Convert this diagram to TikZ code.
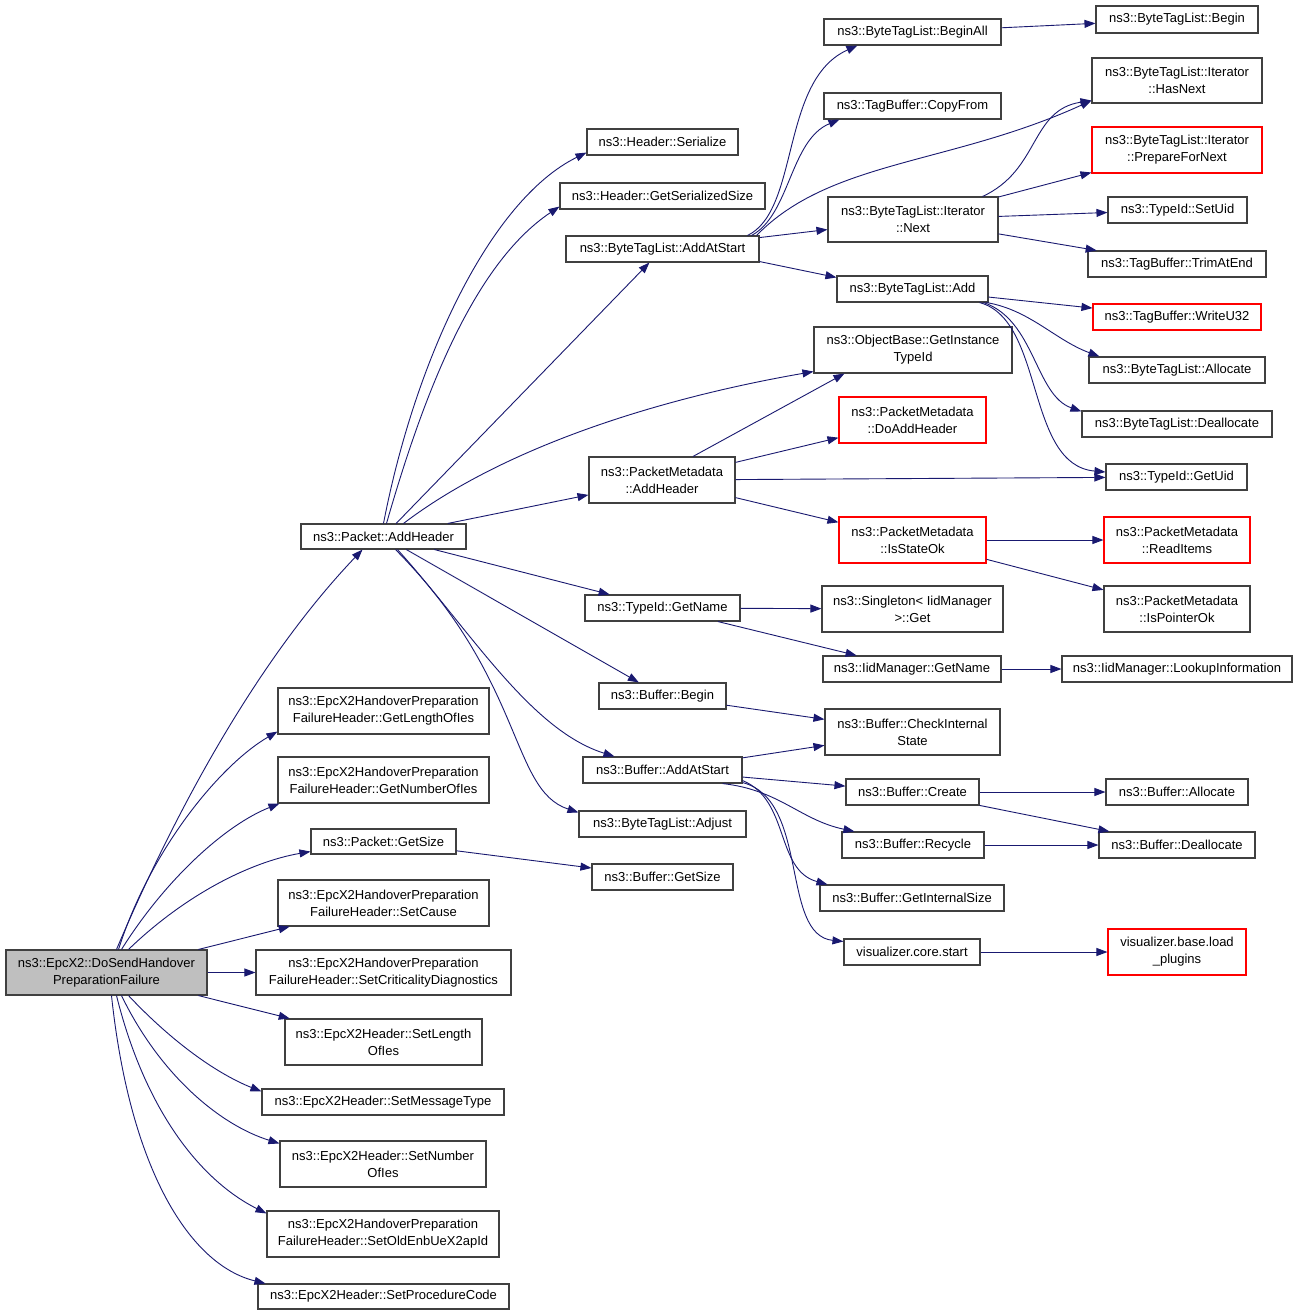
\documentclass[tikz,border=0pt]{standalone}
\usepackage{fontspec}
\setmainfont{Liberation Sans}
\usetikzlibrary{arrows.meta,calc}
\definecolor{edgec}{RGB}{25,25,112}
\definecolor{boxc}{RGB}{64,64,64}
\definecolor{rootc}{RGB}{191,191,191}
\begin{document}
\begin{tikzpicture}[x=1pt,y=-1pt,
  box/.style={draw=boxc,line width=1.1pt,fill=white,inner sep=0pt,align=center,
    font=\fontsize{13}{17}\selectfont},
  redbox/.style={box,draw=red},
  rootbox/.style={box,fill=rootc},
  edge/.style={draw=edgec,line width=0.9pt,-{Triangle[length=11pt,width=8pt]}}]
\fill[white] (0,0) rectangle (1299,1316);
\useasboundingbox (0,0) rectangle (1299,1316);
% level 0
\node[rootbox,minimum width=201,minimum height=45] (root) at (106.5,972.5) {ns3::EpcX2::DoSendHandover\\PreparationFailure};
% level 1
\node[box,minimum width=165,minimum height=25] (pah) at (383.5,536.5) {ns3::Packet::AddHeader};
\node[box,minimum width=211,minimum height=46] (glen) at (383.5,711) {ns3::EpcX2HandoverPreparation\\FailureHeader::GetLengthOfIes};
\node[box,minimum width=211,minimum height=46] (gnum) at (383.5,780) {ns3::EpcX2HandoverPreparation\\FailureHeader::GetNumberOfIes};
\node[box,minimum width=145,minimum height=25] (pgs) at (383.5,841.5) {ns3::Packet::GetSize};
\node[box,minimum width=211,minimum height=46] (scause) at (383.5,903) {ns3::EpcX2HandoverPreparation\\FailureHeader::SetCause};
\node[box,minimum width=255,minimum height=45] (scrit) at (383.5,972.5) {ns3::EpcX2HandoverPreparation\\FailureHeader::SetCriticalityDiagnostics};
\node[box,minimum width=197,minimum height=46] (slen) at (383.5,1042) {ns3::EpcX2Header::SetLength\\OfIes};
\node[box,minimum width=242,minimum height=26] (smt) at (383,1102) {ns3::EpcX2Header::SetMessageType};
\node[box,minimum width=206,minimum height=46] (snum) at (383,1164) {ns3::EpcX2Header::SetNumber\\OfIes};
\node[box,minimum width=232,minimum height=46] (sold) at (383,1234) {ns3::EpcX2HandoverPreparation\\FailureHeader::SetOldEnbUeX2apId};
\node[box,minimum width=251,minimum height=25] (spc) at (383.5,1296.5) {ns3::EpcX2Header::SetProcedureCode};
% level 2
\node[box,minimum width=151,minimum height=26] (hser) at (662.5,142) {ns3::Header::Serialize};
\node[box,minimum width=205,minimum height=26] (hgss) at (662.5,196) {ns3::Header::GetSerializedSize};
\node[box,minimum width=193,minimum height=26] (bats) at (662.5,249) {ns3::ByteTagList::AddAtStart};
\node[box,minimum width=146,minimum height=46] (pma) at (662,480) {ns3::PacketMetadata\\::AddHeader};
\node[box,minimum width=155,minimum height=26] (tgn) at (662.5,608) {ns3::TypeId::GetName};
\node[box,minimum width=127,minimum height=26] (bb) at (662.5,696) {ns3::Buffer::Begin};
\node[box,minimum width=159,minimum height=26] (bas) at (662.5,770) {ns3::Buffer::AddAtStart};
\node[box,minimum width=167,minimum height=26] (adj) at (662.5,824) {ns3::ByteTagList::Adjust};
\node[box,minimum width=141,minimum height=26] (bgs) at (662.5,877) {ns3::Buffer::GetSize};
% level 3
\node[box,minimum width=177,minimum height=26] (bta) at (912.5,32) {ns3::ByteTagList::BeginAll};
\node[box,minimum width=177,minimum height=26] (cpf) at (912.5,106) {ns3::TagBuffer::CopyFrom};
\node[box,minimum width=170,minimum height=45] (nxt) at (913,219.5) {ns3::ByteTagList::Iterator\\::Next};
\node[box,minimum width=151,minimum height=26] (badd) at (912.5,289) {ns3::ByteTagList::Add};
\node[box,minimum width=198,minimum height=46] (oti) at (913,350) {ns3::ObjectBase::GetInstance\\TypeId};
\node[redbox,minimum width=147,minimum height=46] (dah) at (912.5,420) {ns3::PacketMetadata\\::DoAddHeader};
\node[redbox,minimum width=147,minimum height=46] (iso) at (912.5,540) {ns3::PacketMetadata\\::IsStateOk};
\node[box,minimum width=181,minimum height=46] (sgt) at (912.5,609) {ns3::Singleton< IidManager\\>::Get};
\node[box,minimum width=178,minimum height=26] (ign) at (912,669) {ns3::IidManager::GetName};
\node[box,minimum width=175,minimum height=46] (cis) at (912.5,732) {ns3::Buffer::CheckInternal\\State};
\node[box,minimum width=133,minimum height=26] (bcr) at (912.5,792) {ns3::Buffer::Create};
\node[box,minimum width=142,minimum height=26] (rec) at (913,845) {ns3::Buffer::Recycle};
\node[box,minimum width=184,minimum height=26] (gis) at (912,898) {ns3::Buffer::GetInternalSize};
\node[box,minimum width=136,minimum height=26] (vcs) at (912,952) {visualizer.core.start};
% level 4
\node[box,minimum width=162,minimum height=27] (btb) at (1177,19.5) {ns3::ByteTagList::Begin};
\node[box,minimum width=170,minimum height=45] (hnx) at (1177,80.5) {ns3::ByteTagList::Iterator\\::HasNext};
\node[redbox,minimum width=170,minimum height=46] (pfn) at (1177,150) {ns3::ByteTagList::Iterator\\::PrepareForNext};
\node[box,minimum width=139,minimum height=26] (sud) at (1177.5,210) {ns3::TypeId::SetUid};
\node[box,minimum width=178,minimum height=26] (tae) at (1177,264) {ns3::TagBuffer::TrimAtEnd};
\node[redbox,minimum width=168,minimum height=26] (wu3) at (1177,317) {ns3::TagBuffer::WriteU32};
\node[box,minimum width=176,minimum height=26] (alloc) at (1177,370) {ns3::ByteTagList::Allocate};
\node[box,minimum width=190,minimum height=26] (dealloc) at (1177,424) {ns3::ByteTagList::Deallocate};
\node[box,minimum width=141,minimum height=26] (gud) at (1176.5,477) {ns3::TypeId::GetUid};
\node[redbox,minimum width=146,minimum height=46] (rit) at (1177,540) {ns3::PacketMetadata\\::ReadItems};
\node[box,minimum width=146,minimum height=46] (ipo) at (1177,609) {ns3::PacketMetadata\\::IsPointerOk};
\node[box,minimum width=230,minimum height=26] (lki) at (1177,669) {ns3::IidManager::LookupInformation};
\node[box,minimum width=142,minimum height=26] (balloc) at (1177,792) {ns3::Buffer::Allocate};
\node[box,minimum width=156,minimum height=26] (bdealloc) at (1177,845) {ns3::Buffer::Deallocate};
\node[redbox,minimum width=138,minimum height=46] (lpl) at (1177,952) {visualizer.base.load\\\_plugins};
% edges from root
\draw[edge] ($(root.north)+(10,0)$) .. controls (180,800) and (262,655) .. ($(pah.south)+(-21,0)$);
\draw[edge] ($(root.north)+(12,0)$) .. controls (150,850) and (220,765) .. ($(glen.south west)+(0,-3)$);
\draw[edge] ($(root.north)+(15,0)$) .. controls (165,880) and (225,825) .. ($(gnum.south west)+(2,0)$);
\draw[edge] ($(root.north)+(22,0)$) .. controls (185,895) and (250,862) .. ($(pgs.south west)+(0,-3)$);
\draw[edge] (root) -- (scause);
\draw[edge] (root) -- (scrit);
\draw[edge] (root) -- (slen);
\draw[edge] ($(root.south)+(22,0)$) .. controls (175,1045) and (220,1075) .. ($(smt.north west)+(0,3)$);
\draw[edge] ($(root.south)+(15,0)$) .. controls (160,1075) and (220,1125) .. ($(snum.north west)+(0,3)$);
\draw[edge] ($(root.south)+(10,0)$) .. controls (145,1110) and (200,1180) .. ($(sold.north west)+(0,3)$);
\draw[edge] ($(root.south)+(5,0)$) .. controls (130,1170) and (190,1265) .. ($(spc.north west)+(8,0)$);
% edges from Packet::AddHeader
\draw[edge] (pah.north) .. controls (415,360) and (490,200) .. ($(hser.south west)+(0,-3)$);
\draw[edge] ($(pah.north)+(3,0)$) .. controls (422,400) and (472,265) .. ($(hgss.south west)+(0,-3)$);
\draw[edge] (pah) -- (bats);
\draw[edge] ($(pah.north)+(20,0)$) .. controls (500,450) and (650,400) .. ($(oti.south west)+(0,-2)$);
\draw[edge] (pah) -- (pma);
\draw[edge] (pah) -- (tgn);
\draw[edge] (pah) -- (bb);
\draw[edge] ($(pah.south)+(14,0)$) .. controls (470,630) and (530,730) .. ($(bas.north west)+(32,0)$);
\draw[edge] ($(pah.south)+(12,0)$) .. controls (525,680) and (510,790) .. ($(adj.north west)+(0,2)$);
\draw[edge] (pgs) -- (bgs);
% ByteTagList::AddAtStart
\draw[edge] ($(bats.north east)+(-12,0)$) .. controls (800,210) and (780,80) .. ($(bta.south west)+(34,0)$);
\draw[edge] ($(bats.north east)+(-8,0)$) .. controls (790,215) and (790,140) .. ($(cpf.south west)+(16,0)$);
\draw[edge] ($(bats.north east)+(-3,0)$) .. controls (830,160) and (950,165) .. ($(hnx.south west)+(0,-3)$);
\draw[edge] (bats) -- (nxt);
\draw[edge] ($(bats.south east)+(0,-1)$) -- ($(badd.north west)+(0,2)$);
\draw[edge] (bta) -- (btb);
% Iterator::Next
\draw[edge] ($(nxt.north east)+(-16,0)$) .. controls (1040,170) and (1030,110) .. ($(hnx.south west)+(0,-3)$);
\draw[edge] (nxt) -- (pfn);
\draw[edge] (nxt) -- (sud);
\draw[edge] (nxt) -- (tae);
% ByteTagList::Add
\draw[edge] (badd) -- (wu3);
\draw[edge] ($(badd.south east)+(-2,0)$) .. controls (1030,310) and (1055,340) .. ($(alloc.north west)+(11,0)$);
\draw[edge] ($(badd.south east)+(-5,0)$) .. controls (1035,320) and (1035,395) .. ($(dealloc.north west)+(0,1)$);
\draw[edge] ($(badd.south east)+(-9,0)$) .. controls (1045,320) and (1025,465) .. ($(gud.west)+(0,-5)$);
% PacketMetadata::AddHeader
\draw[edge] ($(pma.north)+(31,0)$) -- ($(oti.south west)+(31,0)$);
\draw[edge] (pma) -- (dah);
\draw[edge] (pma) -- (gud);
\draw[edge] (pma) -- (iso);
\draw[edge] (iso) -- (rit);
\draw[edge] (iso) -- (ipo);
% TypeId::GetName
\draw[edge] (tgn) -- (sgt);
\draw[edge] (tgn) -- (ign);
\draw[edge] (ign) -- (lki);
% Buffer
\draw[edge] (bb) -- (cis);
\draw[edge] (bas) -- (cis);
\draw[edge] (bas) -- (bcr);
\draw[edge] ($(bas.south east)+(-20,0)$) .. controls (780,790) and (800,820) .. ($(rec.north west)+(13,0)$);
\draw[edge] ($(bas.south east)+(0,-3)$) .. controls (790,800) and (775,870) .. ($(gis.north west)+(8,0)$);
\draw[edge] ($(bas.south east)+(0,-1)$) .. controls (810,800) and (780,935) .. ($(vcs.north west)+(0,3)$);
\draw[edge] (bcr) -- (balloc);
\draw[edge] (bcr) -- (bdealloc);
\draw[edge] (rec) -- (bdealloc);
\draw[edge] (vcs) -- (lpl);
\end{tikzpicture}
\end{document}
